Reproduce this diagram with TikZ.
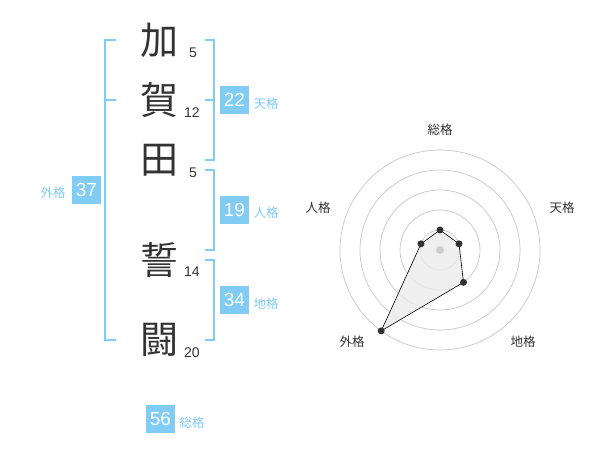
\documentclass[tikz,border=0pt]{standalone}
\usepackage{fontspec}
\setmainfont{Liberation Sans}
\newfontfamily\jp{Noto Sans CJK JP}
\definecolor{kaku}{HTML}{80CCF5}
\definecolor{sumi}{HTML}{333333}
\begin{document}
\begin{tikzpicture}[x=1pt,y=-1pt,
	moji/.style={font=\jp\fontsize{38}{38}\selectfont, text=sumi, inner sep=0pt},
	kakusu/.style={font=\fontsize{14}{14}\selectfont, text=sumi, inner sep=0pt},
	waku/.style={fill=kaku, text=white, minimum width=29pt, minimum height=28pt, inner sep=0pt, font=\fontsize{19}{19}\selectfont},
	mei/.style={font=\jp\fontsize{12.5}{12.5}\selectfont, text=kaku, inner sep=0pt},
	jiku/.style={font=\jp\fontsize{12.5}{12.5}\selectfont, text=sumi, inner sep=0pt},
	kagi/.style={draw=kaku, line width=2pt},
	wa/.style={draw=black!22, line width=0.7pt},
	ten/.style={circle, fill=sumi, inner sep=0pt, minimum size=7pt}]
	\fill[white] (0,0) rectangle (600,470);
	\useasboundingbox (0,0) rectangle (600,470);
	% name
	\node (C1) at (159, 40)	[moji]	{加};
	\node (C2) at (159,100)	[moji]	{賀};
	\node (C3) at (159,160)	[moji]	{田};
	\node (C4) at (159,260)	[moji]	{誓};
	\node (C5) at (159,340)	[moji]	{闘};
	\node (K1) at (193, 53)	[kakusu]	{5};
	\node (K2) at (192,113)	[kakusu]	{12};
	\node (K3) at (193,173)	[kakusu]	{5};
	\node (K4) at (192,272)	[kakusu]	{14};
	\node (K5) at (192,353)	[kakusu]	{20};
	% brackets
	\coordinate (G1) at (116, 40);	\coordinate (G2) at (105, 40);
	\coordinate (G3) at (105,340);	\coordinate (G4) at (116,340);
	\coordinate (G5) at (105,100);	\coordinate (G6) at (116,100);
	\coordinate (T1) at (205, 40);	\coordinate (T2) at (214, 40);
	\coordinate (T3) at (214,160);	\coordinate (T4) at (205,160);
	\coordinate (T5) at (205,100);	\coordinate (T6) at (214,100);
	\coordinate (J1) at (205,170);	\coordinate (J2) at (214,170);
	\coordinate (J3) at (214,250);	\coordinate (J4) at (205,250);
	\coordinate (D1) at (205,260);	\coordinate (D2) at (214,260);
	\coordinate (D3) at (214,340);	\coordinate (D4) at (205,340);
	\draw[kagi] (G1) -- (G2) -- (G3) -- (G4);
	\draw[kagi] (G5) -- (G6);
	\draw[kagi] (T1) -- (T2) -- (T3) -- (T4);
	\draw[kagi] (T5) -- (T6);
	\draw[kagi] (J1) -- (J2) -- (J3) -- (J4);
	\draw[kagi] (D1) -- (D2) -- (D3) -- (D4);
	% scores
	\node (Ten) at (234.5,100)	[waku]	{22};
	\node (Jin) at (234.5,210)	[waku]	{19};
	\node (Chi) at (234.5,300)	[waku]	{34};
	\node (Gai) at ( 86.5,190)	[waku]	{37};
	\node (Sou) at (160.5,419)	[waku]	{56};
	\node at (266,104)	[mei]	{天格};
	\node at (266,213)	[mei]	{人格};
	\node at (266,304)	[mei]	{地格};
	\node at ( 53,193)	[mei]	{外格};
	\node at (192,423)	[mei]	{総格};
	% radar
	\begin{scope}[shift={(440,250)}]
		\coordinate (O) at (0,0);
		\foreach \r in {20,40,60,80,100}
			\draw[wa] (O) circle [radius=\r pt];
		\coordinate (P1) at ( -90: 20);
		\coordinate (P2) at ( -18: 20);
		\coordinate (P3) at (  54: 40);
		\coordinate (P4) at ( 126:100);
		\coordinate (P5) at (-162: 20);
		\fill[black!8, opacity=0.8] (P1) -- (P2) -- (P3) -- (P4) -- (P5) -- cycle;
		\draw[black, line width=0.6pt] (P1) -- (P2) -- (P3) -- (P4) -- (P5) -- cycle;
		\foreach \p in {P1,P2,P3,P4,P5}
			\node (\p dot) at (\p) [ten] {};
		\node (O1) at (O)	[circle, fill=black!20, inner sep=0pt, minimum size=8pt]	{};
		\node (L1) at (   0,-120)	[jiku]	{総格};
		\node (L2) at ( 122, -42)	[jiku]	{天格};
		\node (L3) at (  83,  92)	[jiku]	{地格};
		\node (L4) at ( -88,  92)	[jiku]	{外格};
		\node (L5) at (-122, -42)	[jiku]	{人格};
	\end{scope}
\end{tikzpicture}
\end{document}
